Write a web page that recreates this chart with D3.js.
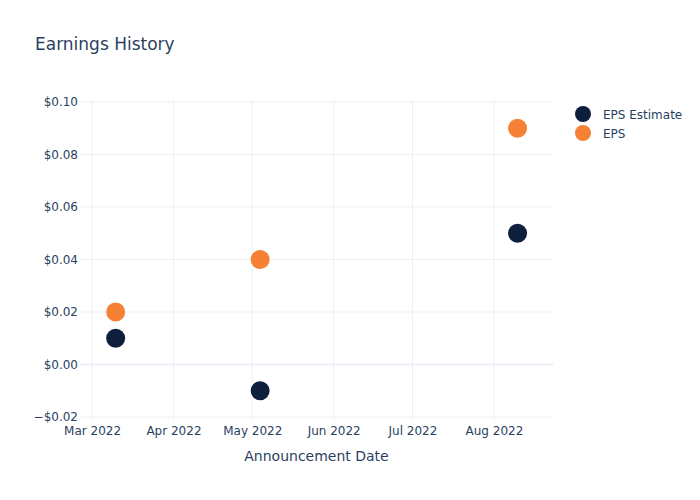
<!DOCTYPE html>
<html>
<head>
<meta charset="utf-8">
<script src="https://cdn.jsdelivr.net/npm/d3@7"></script>
<style>
  html, body { margin: 0; padding: 0; background: #fff; }
  svg { display: block; font-family: "DejaVu Sans", verdana, arial, sans-serif; }
</style>
</head>
<body>
<div id="chart"></div>
<script>
// Data
const dates = ["2022-03-10", "2022-05-04", "2022-08-10"];
const epsEstimate = [0.01, -0.01, 0.05];
const epsActual = [0.02, 0.04, 0.09];
const seriesNames = ["EPS Estimate", "EPS"];
const seriesColors = ["#0d1f3d", "#f58134"];
const yTicks = [-0.02, 0, 0.02, 0.04, 0.06, 0.08, 0.10];
const xTickDates = ["2022-03-01", "2022-04-01", "2022-05-01", "2022-06-01", "2022-07-01", "2022-08-01"];

const W = 700, H = 500;
const margin = { left: 80, right: 147, top: 100, bottom: 80 };
const textColor = "#2a3f5f";
const gridColor = "#ebf0f8";
const FONT = '"DejaVu Sans", verdana, arial, sans-serif';

const parse = d3.utcParse("%Y-%m-%d");
const svg = d3.select("#chart").append("svg").attr("width", W).attr("height", H);

const x = d3.scaleUtc()
  .domain([new Date(Date.UTC(2022, 1, 24, 10)), new Date(Date.UTC(2022, 7, 23, 12))])
  .range([margin.left, W - margin.right]);
const y = d3.scaleLinear()
  .domain([-0.02114, 0.10076])
  .range([H - margin.bottom, margin.top]);

// Grid
svg.append("g").selectAll("line").data(xTickDates.map(parse)).join("line")
  .attr("x1", d => x(d)).attr("x2", d => x(d))
  .attr("y1", margin.top).attr("y2", H - margin.bottom)
  .attr("stroke", gridColor).attr("stroke-width", 1);
svg.append("g").selectAll("line").data(yTicks).join("line")
  .attr("x1", margin.left).attr("x2", W - margin.right)
  .attr("y1", d => y(d)).attr("y2", d => y(d))
  .attr("stroke", gridColor).attr("stroke-width", d => d === 0 ? 2 : 1);

// Axes
const fmt = d => (d < 0 ? "\u2212$" : "$") + Math.abs(d).toFixed(2);
const yAxis = svg.append("g").attr("transform", `translate(${margin.left},0)`)
  .call(d3.axisLeft(y).tickValues(yTicks).tickFormat(fmt).tickSize(0).tickPadding(2));
yAxis.select(".domain").remove();
yAxis.selectAll("text").attr("fill", textColor).attr("font-size", 12).attr("font-family", FONT);

const xAxis = svg.append("g").attr("transform", `translate(0,${H - margin.bottom})`)
  .call(d3.axisBottom(x).tickValues(xTickDates.map(parse)).tickFormat(d3.utcFormat("%b %Y")).tickSize(0).tickPadding(6));
xAxis.select(".domain").remove();
xAxis.selectAll("text").attr("fill", textColor).attr("font-size", 12).attr("font-family", FONT);

// Points
[epsEstimate, epsActual].forEach((vals, si) => {
  svg.append("g").selectAll("circle").data(vals).join("circle")
    .attr("cx", (d, i) => x(parse(dates[i])))
    .attr("cy", d => y(d))
    .attr("r", 9.5)
    .attr("fill", seriesColors[si]);
});

// Title
svg.append("text").attr("x", 35).attr("y", 50).attr("fill", textColor)
  .attr("font-size", 17).text("Earnings History");

// X axis title
svg.append("text").attr("x", (margin.left + W - margin.right) / 2).attr("y", 461)
  .attr("text-anchor", "middle").attr("fill", textColor).attr("font-size", 14)
  .text("Announcement Date");

// Legend
const lg = svg.append("g");
seriesNames.forEach((n, i) => {
  const yy = 114 + i * 19;
  lg.append("circle").attr("cx", 583).attr("cy", yy).attr("r", 8).attr("fill", seriesColors[i]);
  lg.append("text").attr("x", 603).attr("y", yy + 4.5).attr("fill", textColor)
    .attr("font-size", 12).text(n);
});
</script>
</body>
</html>
